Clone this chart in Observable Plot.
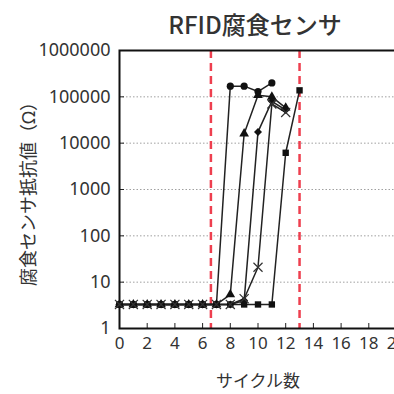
<!DOCTYPE html>
<html><head><meta charset="utf-8">
<script src="https://cdn.jsdelivr.net/npm/d3@7"></script>
<script src="https://cdn.jsdelivr.net/npm/@observablehq/plot@0.6"></script>
<style>
html,body{margin:0;padding:0;background:#fff;overflow:hidden}
#wrap{position:relative;width:394px;height:394px;overflow:hidden}
#title{position:absolute;left:0;top:12px;width:510px;text-align:center;font:500 24px "Noto Sans CJK JP";line-height:24px;color:#333;z-index:2}
#chart{position:absolute;left:0;top:0;width:430px}
#chart svg{max-width:none !important;width:430px !important;height:394px !important}
</style></head><body>
<div id="wrap"><div id="title">RFID腐食センサ</div><div id="chart"></div></div>
<script>
const cycles = [0,1,2,3,4,5,6,7,8,9,10,11,12,13];
const seriesCircle   = [3.3,3.3,3.3,3.3,3.3,3.3,3.3,3.3,170000,170000,130000,200000,null,null];
const seriesTriangle = [3.3,3.3,3.3,3.3,3.3,3.3,3.3,3.3,5.4,16000,108000,100000,58000,null];
const seriesDiamond  = [3.3,3.3,3.3,3.3,3.3,3.3,3.3,3.3,3.3,4.0,17500,80000,52000,null];
const seriesTimes    = [3.3,3.3,3.3,3.3,3.3,3.3,3.3,3.3,3.3,4.4,21,70000,46000,null];
const seriesSquare   = [3.3,3.3,3.3,3.3,3.3,3.3,3.3,3.3,3.3,3.3,3.3,3.3,6200,138000];
const redLines = [6.6, 13.0];
const xTicks = [0,2,4,6,8,10,12,14,16,18,20];
const yTicks = [1,10,100,1000,10000,100000,1000000];

const seriesDefs = [
  {name:"circle", symbol:"circle", values:seriesCircle},
  {name:"triangle", symbol:"triangle", values:seriesTriangle},
  {name:"diamond", symbol:"diamond2", values:seriesDiamond},
  {name:"times", symbol:"times", values:seriesTimes},
  {name:"square", symbol:"square", values:seriesSquare}
];
const rows = seriesDefs.flatMap(s => cycles.map((c,i) => ({series:s.name, symbol:s.symbol, cycle:c, value:s.values[i]})).filter(d => d.value != null));
const filled = rows.filter(d => d.symbol !== "times");
const crosses = rows.filter(d => d.symbol === "times");

const W = 430;
const chart = Plot.plot({
  width: W, height: 394,
  marginLeft: 119, marginRight: W - 396, marginTop: 50, marginBottom: 66,
  style: {fontFamily: "'Noto Sans', 'Noto Sans CJK JP'", fontSize: "17px", color: "#333", background: "#fff", maxWidth: "none"},
  x: {domain: [0, 20]},
  y: {type: "log", domain: [1, 1000000]},
  marks: [
    Plot.gridY(yTicks, {stroke: "#888", strokeOpacity: 1, strokeDasharray: "1.5,2", strokeWidth: 0.8}),
    Plot.ruleX(redLines, {stroke: "#ee3f4f", strokeWidth: 2.5, strokeDasharray: "8,5"}),
    Plot.axisX({ticks: xTicks, tickSize: -5, tickPadding: 13, stroke: "#222", tickFormat: d => String(d),
      label: "サイクル数", labelAnchor: "center", labelArrow: "none", labelOffset: 58, fontSize: 17}),
    Plot.axisY({ticks: yTicks, tickSize: -5, tickPadding: 14, stroke: "#222", tickFormat: d => String(d),
      label: "腐食センサ抵抗値（Ω）", labelAnchor: "center", labelArrow: "none", labelOffset: 97, fontSize: 18}),
    Plot.frame({stroke: "#111", strokeWidth: 2}),
    Plot.line(rows, {x: "cycle", y: "value", z: "series", stroke: "#222", strokeWidth: 1.5}),
    Plot.dot(filled, {x: "cycle", y: "value", symbol: "symbol", fill: "#111", r: 3.6}),
    Plot.dot(crosses, {x: "cycle", y: "value", symbol: "times", stroke: "#333", strokeWidth: 1.2, r: 4.2})
  ]
});
document.getElementById("chart").appendChild(chart);
</script>
</body></html>
